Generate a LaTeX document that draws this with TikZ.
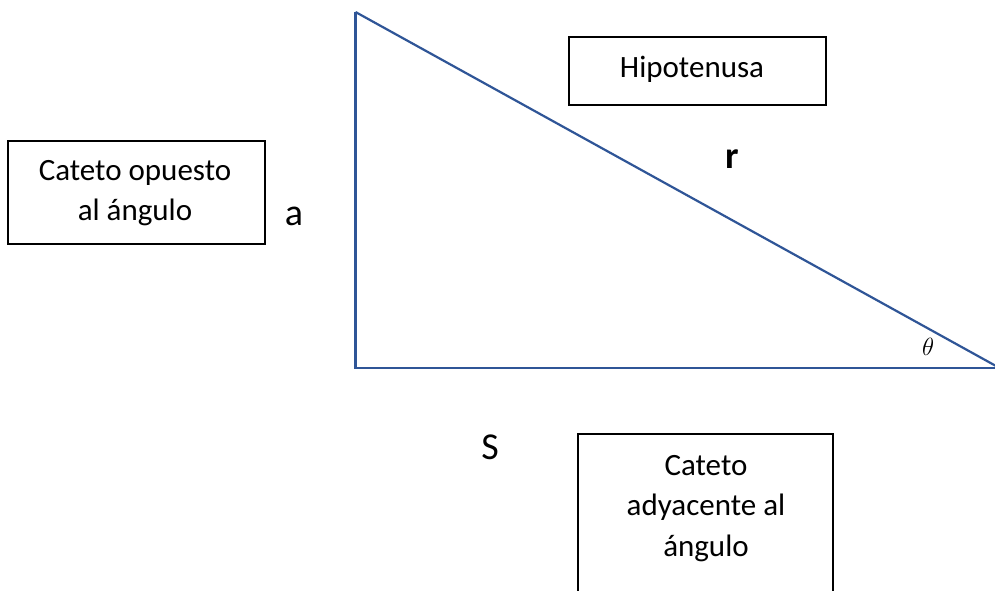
\documentclass[tikz,border=0pt]{standalone}
\usepackage{fontspec}
\setmainfont{Carlito}
\begin{document}
\begin{tikzpicture}[x=1pt,y=-1pt,
  lbl/.style={font=\fontsize{31}{40.5}\selectfont, inner sep=0pt},
  big/.style={font=\fontsize{38}{44}\selectfont, inner sep=0pt},
  boxed/.style={draw=black, line width=1.6pt, fill=white, inner sep=0pt},
  tri/.style={draw={rgb,255:red,47;green,85;blue,151}, line width=2.2pt}]
\clip (0,0) rectangle (995,590);
\fill[white] (0,0) rectangle (995,590);
% triangle
\coordinate (A) at (355.5,12);
\coordinate (B) at (355.5,368);
\coordinate (C) at (996,366);
\draw[tri] (A) -- (B) -- (996,368);
\draw[tri] (A) -- (C);
% boxes
\node[boxed, minimum width=257, minimum height=68] (hip) at (697.5,71) {};
\node[lbl] (hipt) at (692,69) {Hipotenusa};
\node[boxed, minimum width=257, minimum height=103] (opp) at (136.5,192.5) {};
\node[lbl, align=center] (oppt) at (135,193) {Cateto opuesto\\al ángulo};
\node[boxed, minimum width=255, minimum height=200] (adj) at (705.5,534) {};
\node[lbl, align=center, anchor=north] (adjt) at (706,455) {Cateto\\adyacente al\\ángulo};
% labels
\node[big] (r) at (732,159) {\bfseries r};
\node[big] (a) at (294,216) {a};
\node[big] (s) at (490,447) {S};
\node[font=\fontsize{26}{30}\selectfont, inner sep=0pt] (th) at (928,347) {$\theta$};
\end{tikzpicture}
\end{document}
